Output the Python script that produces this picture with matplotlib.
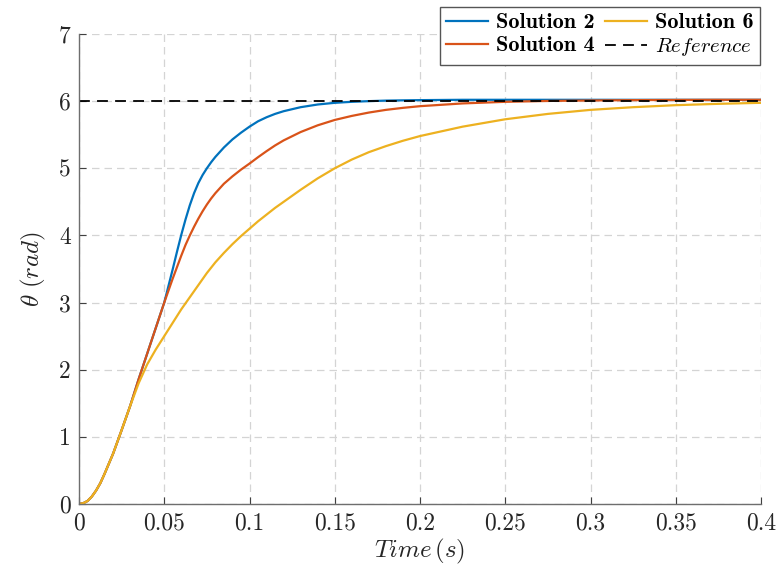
import numpy as np
import matplotlib
matplotlib.use("Agg")
import matplotlib.pyplot as plt
import matplotlib.ticker as mtick

# time samples (s)
t = [0, 0.0025, 0.005, 0.0075, 0.01, 0.0125, 0.015, 0.02, 0.025, 0.03,
     0.035, 0.04, 0.045, 0.05,
     0.0525, 0.055, 0.0575, 0.06, 0.0625, 0.065, 0.0675, 0.07, 0.0725,
     0.075, 0.0775, 0.08, 0.085, 0.09, 0.095, 0.1, 0.105, 0.11, 0.115,
     0.12, 0.13, 0.14, 0.15, 0.16, 0.17, 0.18, 0.19, 0.2, 0.225, 0.25,
     0.275, 0.3, 0.325, 0.35, 0.375, 0.4]

sol2 = [0, 0.012, 0.045, 0.11, 0.2, 0.31, 0.45, 0.75, 1.1, 1.46,
        1.86, 2.24, 2.62, 3.0,
        3.25, 3.5, 3.76, 4.01, 4.24, 4.45, 4.63, 4.78, 4.9,
        5.0, 5.09, 5.17, 5.31, 5.43, 5.53, 5.62, 5.7, 5.76, 5.81,
        5.85, 5.91, 5.95, 5.975, 5.99, 6.0, 6.008, 6.012, 6.015, 6.02, 6.02,
        6.02, 6.02, 6.02, 6.02, 6.02, 6.02]

sol4 = [0, 0.012, 0.045, 0.11, 0.2, 0.31, 0.45, 0.75, 1.1, 1.46,
        1.86, 2.24, 2.62, 3.0,
        3.18, 3.36, 3.53, 3.7, 3.86, 4.0, 4.13, 4.25, 4.36,
        4.46, 4.55, 4.63, 4.77, 4.88, 4.98, 5.07, 5.165, 5.255, 5.34,
        5.415, 5.54, 5.64, 5.72, 5.78, 5.83, 5.87, 5.9, 5.925, 5.966, 5.99,
        6.003, 6.01, 6.015, 6.018, 6.02, 6.02]

sol6 = [0, 0.012, 0.045, 0.11, 0.2, 0.31, 0.45, 0.75, 1.1, 1.46,
        1.8, 2.08, 2.3, 2.5,
        2.6, 2.7, 2.8, 2.9, 2.99, 3.08, 3.17, 3.26, 3.35,
        3.44, 3.52, 3.6, 3.74, 3.87, 3.99, 4.1, 4.21, 4.31, 4.41,
        4.5, 4.68, 4.85, 5.0, 5.13, 5.24, 5.33, 5.41, 5.48, 5.62, 5.73,
        5.81, 5.87, 5.91, 5.94, 5.96, 5.975]

ref_t = [0, 0.4]
ref_val = [6, 6]

labels = ['Solution 2', 'Solution 4', 'Solution 6', r'$\mathit{Reference}$']
colors = ['#0072BD', '#D95319', '#EDB120']

xticks = [0, 0.05, 0.1, 0.15, 0.2, 0.25, 0.3, 0.35, 0.4]
yticks = [0, 1, 2, 3, 4, 5, 6, 7]

plt.rcParams['font.family'] = ['cmr10', 'DejaVu Serif']
plt.rcParams['mathtext.fontset'] = 'cm'
plt.rcParams['axes.formatter.use_mathtext'] = True

fig = plt.figure(figsize=(7.78, 5.65), dpi=100)
ax = fig.add_axes([79 / 778, 61 / 565, 682 / 778, 470 / 565])

for y_data, col, lab in zip([sol2, sol4, sol6], colors, labels[:3]):
	ax.plot(t, y_data, color=col, lw=1.6, label=lab)
ax.plot(ref_t, ref_val, color='black', lw=1.3, ls=(0, (6, 4)), label=labels[3])

ax.set_xlim(0, 0.4)
ax.set_ylim(0, 7)
ax.set_xticks(xticks)
ax.set_yticks(yticks)
ax.xaxis.set_major_formatter(mtick.FuncFormatter(lambda v, p: '%g' % v))
ax.yaxis.set_major_formatter(mtick.FuncFormatter(lambda v, p: '%g' % v))

ax.grid(True, color='#d4d4d4', ls=(0, (6, 4)), lw=0.9)
ax.set_axisbelow(True)
for s in ['top', 'right']:
	ax.spines[s].set_visible(False)
for s in ['left', 'bottom']:
	ax.spines[s].set_color('#6e6e6e')
	ax.spines[s].set_linewidth(1.0)
ax.tick_params(direction='in', length=5, color='#404040', labelsize=17,
               labelcolor='#262626', pad=6)

ax.set_xlabel(r'$Time\,(s)$', fontsize=18, color='#262626', labelpad=2)
ax.set_ylabel(r'$\theta\ (rad)$', fontsize=18, color='#262626', labelpad=8)

# legend pokes above the top of the axes
leg = ax.legend(loc='upper right', bbox_to_anchor=(1 - 1 / 682, 1 + 27 / 470),
                ncol=2, fontsize=15, frameon=True, fancybox=False,
                borderpad=0.3, labelspacing=0.2, handlelength=2.0,
                handletextpad=0.4, columnspacing=0.5, borderaxespad=0)
for txt in leg.get_texts()[:3]:
	txt.set_fontfamily('cmb10')
	txt.set_fontsize(16)
leg.get_frame().set_edgecolor('#555555')
leg.get_frame().set_linewidth(1.0)
leg.get_frame().set_alpha(1)

plt.savefig('out.png', dpi=100)
plt.close('all')
